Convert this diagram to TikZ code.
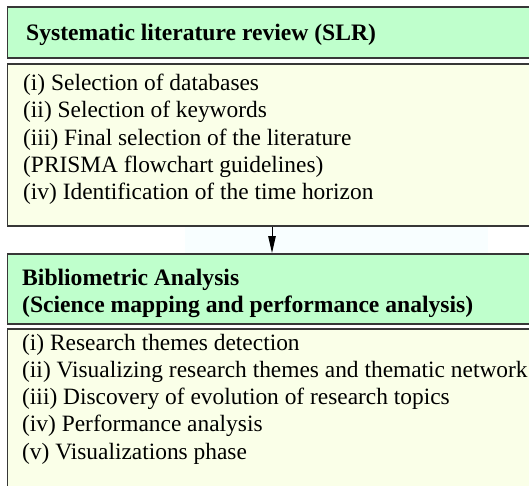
\documentclass[tikz,border=0pt]{standalone}
\usepackage{fontspec}
\setmainfont{Liberation Serif}
\usetikzlibrary{arrows.meta}
\definecolor{headfill}{RGB}{191,255,204}
\definecolor{bodyfill}{RGB}{250,255,232}
\definecolor{boxline}{RGB}{55,55,55}
\definecolor{faintblue}{RGB}{248,254,255}
\begin{document}
\begin{tikzpicture}[x=1pt,y=1pt,
  panel/.style={draw=boxline, line width=1.6pt, anchor=north west, inner sep=0pt, minimum width=560pt},
  headbox/.style={panel, fill=headfill},
  bodybox/.style={panel, fill=bodyfill},
  txt/.style={anchor=base west, inner sep=0pt, font=\fontsize{23.4}{27.3}\selectfont},
  htxt/.style={txt, font=\fontsize{23.6}{27.3}\selectfont\bfseries},
  flow/.style={line width=1pt, -{Triangle[length=17pt,width=7.5pt]}}]
\useasboundingbox (0,0) rectangle (529,-485);
\clip (0,0) rectangle (529,-485);
\fill[white] (0,0) rectangle (529,-485);
\fill[faintblue] (185,-225) rectangle (488,-253);
% boxes
\node[headbox, minimum height=51pt] (h1) at (6.5,-6) {};
\node[bodybox, minimum height=162pt] (b1) at (6.5,-63) {};
\node[headbox, minimum height=70pt] (h2) at (6.5,-253) {};
\node[bodybox, minimum height=200pt] (b2) at (6.5,-328) {};
% texts
\node[htxt] (t1) at (26,-40.5) {Systematic literature review (SLR)};
\node[txt] (t2) at (23,-90.5) {(i) Selection of databases};
\node[txt] (t3) at (23,-117.8) {(ii) Selection of keywords};
\node[txt] (t4) at (23,-145.1) {(iii) Final selection of the literature};
\node[txt] (t5) at (23,-172.4) {(PRISMA flowchart guidelines)};
\node[txt] (t6) at (23,-199.7) {(iv) Identification of the time horizon};
\node[htxt] (t7) at (22,-285.5) {Bibliometric Analysis};
\node[htxt] (t8) at (22,-312.8) {(Science mapping and performance analysis)};
\node[txt] (t9) at (22,-350) {(i) Research themes detection};
\node[txt] (t10) at (22,-377.3) {(ii) Visualizing research themes and thematic network};
\node[txt] (t11) at (22,-404.6) {(iii) Discovery of evolution of research topics};
\node[txt] (t12) at (22,-431.9) {(iv) Performance analysis};
\node[txt] (t13) at (22,-459.2) {(v) Visualizations phase};
% connector
\coordinate (ax) at (272,0);
\draw[flow] (b1.south -| ax) -- (h2.north -| ax);
\end{tikzpicture}
\end{document}
